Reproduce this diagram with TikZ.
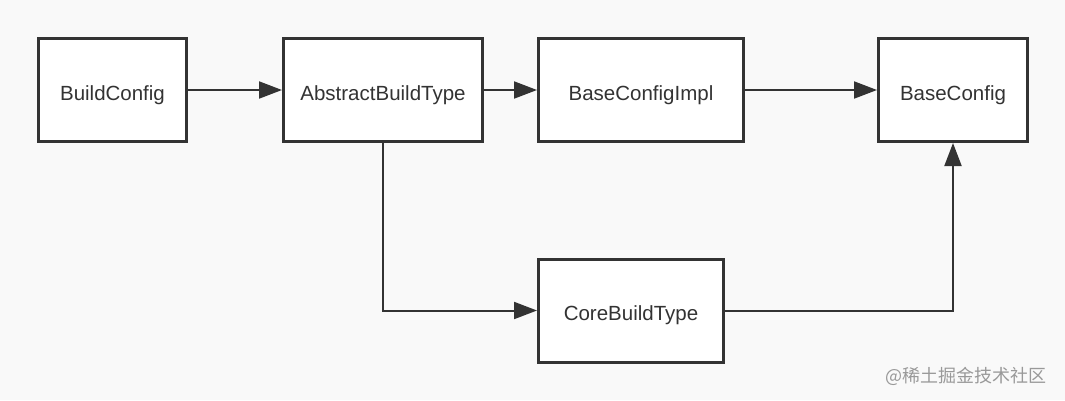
\documentclass[tikz,border=0pt]{standalone}
\usepackage{fontspec}
\setmainfont{Liberation Sans}
\newfontfamily\cjk{Noto Sans CJK SC}
\usetikzlibrary{arrows.meta}
\definecolor{ink}{HTML}{333333}
\definecolor{paper}{HTML}{F9F9F9}
\tikzset{
  cls/.style={draw=ink, line width=3pt, fill=white, minimum height=103pt,
    text=ink, font=\fontsize{20.5}{23}\selectfont, inner sep=0pt,
    text height=20.6pt, text depth=0pt},
  link/.style={draw=ink, line width=2pt, -{Triangle[length=23pt,width=17pt]}}
}
\begin{document}
\begin{tikzpicture}[x=1pt,y=-1pt]
      \fill[paper] (0,0) rectangle (1065,400);
      \useasboundingbox (0,0) rectangle (1065,400);
      \draw
        (112.5,90) node[cls, minimum width=148pt] (buildconfig){BuildConfig}
        (383,90) node[cls, minimum width=199pt] (abstracttype){AbstractBuildType}
        (641,90) node[cls, minimum width=205pt] (baseimpl){BaseConfigImpl}
        (953,90) node[cls, minimum width=149pt] (baseconfig){BaseConfig}
        (631,310.5) node[cls, minimum width=185pt] (coretype){CoreBuildType};
      \node[text=gray!80, font=\cjk\fontsize{18}{20}\selectfont, anchor=east] (mark) at (1050,376) {@稀土掘金技术社区};
      \begin{scope}[link]
        \draw (buildconfig) to (abstracttype);
        \draw (abstracttype) to (baseimpl);
        \draw (baseimpl) to (baseconfig);
        \draw (abstracttype) |- (coretype);
        \draw (coretype) -| (baseconfig);
      \end{scope}
    \end{tikzpicture}
\end{document}
